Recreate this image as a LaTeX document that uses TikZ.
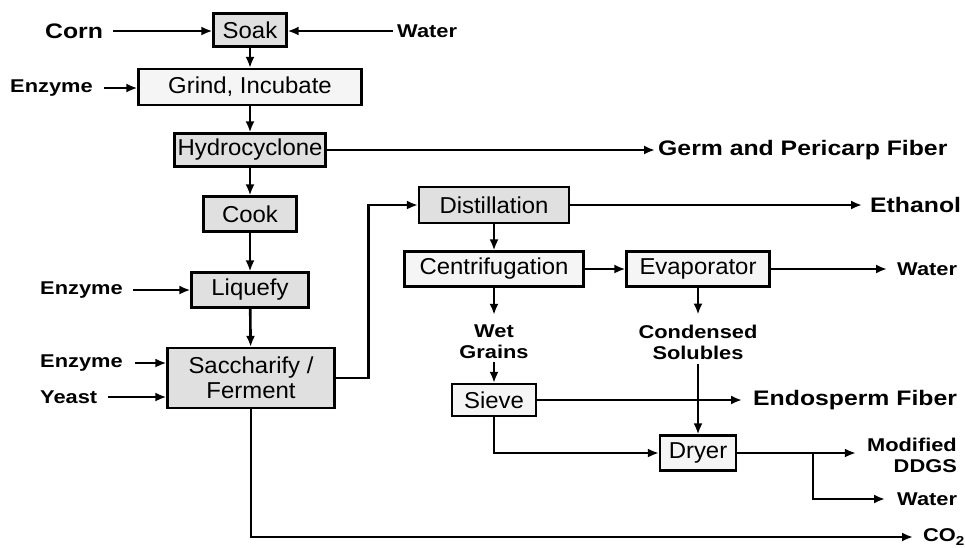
\documentclass[tikz,border=0pt]{standalone}
\usepackage{fontspec}
\setmainfont{Liberation Sans}[FakeStretch=1.18]
\newfontfamily\boxfamily{Liberation Sans}[FakeStretch=1.04]
\usepackage{tikz}
\usetikzlibrary{arrows.meta, positioning}
\newcommand{\boxfont}{\boxfamily\fontsize{23}{25}\selectfont}
\newcommand{\lblfont}{\fontsize{18.5}{21}\selectfont\bfseries}
\newcommand{\biglblfont}{\fontsize{21}{24}\selectfont\bfseries}
\tikzset{
  box/.style={
    rectangle, draw=black, line width=2.2pt, fill=#1,
    inner sep=0pt, align=center, font=\boxfont
  },
  dbox/.style={box=gray!24},
  lbox/.style={box=gray!8},
  arrow/.style={-{Latex[length=11pt,width=9pt]}, line width=2.6pt},
  lbl/.style={inner sep=0pt, align=center, font=\lblfont},
  biglbl/.style={lbl, font=\biglblfont},
}

\begin{document}
\begin{tikzpicture}[x=1pt, y=-1pt]
  \useasboundingbox (0,0) rectangle (965,547);

  % Main column
  \node[dbox, minimum width=73pt,  minimum height=33pt] (soak)    at (250,30)  {Soak};
  \node[lbox, minimum width=223pt, minimum height=36pt] (grind)   at (250,87)  {Grind, Incubate};
  \node[dbox, minimum width=151pt, minimum height=33pt] (hydro)   at (250,150) {Hydrocyclone};
  \node[dbox, minimum width=93pt,  minimum height=35pt] (cook)    at (250,214) {Cook};
  \node[dbox, minimum width=117pt, minimum height=35pt] (liquefy) at (250,290) {Liquefy};
  \node[dbox, minimum width=167pt, minimum height=60pt] (sacch)   at (251,378) {Saccharify /\\Ferment};

  % Right side
  \node[dbox, minimum width=150pt, minimum height=36pt] (distill) at (494,205) {Distillation};
  \node[lbox, minimum width=179pt, minimum height=35pt] (centr)   at (494,269) {Centrifugation};
  \node[lbox, minimum width=143pt, minimum height=35pt] (evap)    at (698,269) {Evaporator};
  \node[lbox, minimum width=84pt,  minimum height=32pt] (sieve)   at (494,400) {Sieve};
  \node[lbox, minimum width=76pt,  minimum height=35pt] (dryer)   at (698,453) {Dryer};

  % Inputs
  \node[biglbl, anchor=west] (corn)    at (45,31)  {Corn};
  \node[lbl, anchor=west]    (water)   at (397,31) {Water};
  \node[lbl, anchor=west]    (enzgrd)  at (10,88)  {Enzyme};
  \node[lbl, anchor=west]    (enzliq)  at (40,290) {Enzyme};
  \node[lbl, anchor=west]    (enzsac)  at (40,363) {Enzyme};
  \node[lbl, anchor=west]    (yeast)   at (40,397) {Yeast};

  % Products
  \node[biglbl, anchor=west] (germ)    at (658,150) {Germ and Pericarp Fiber};
  \node[biglbl, anchor=west] (ethanol) at (870,205) {Ethanol};
  \node[lbl, anchor=west]    (evwater) at (897,269) {Water};
  \node[lbl]                 (wet)     at (494,342) {Wet\\Grains};
  \node[lbl]                 (solub)   at (698,342) {Condensed\\Solubles};
  \node[biglbl, anchor=west] (endo)    at (753,400) {Endosperm Fiber};
  \node[lbl, anchor=east, align=right] (ddgs) at (957,455) {Modified\\DDGS};
  \node[lbl, anchor=west]    (drwater) at (897,499) {Water};
  \node[lbl, anchor=west]    (co2)     at (923,537) {CO\textsubscript{2}};
  \coordinate[right=76pt of dryer.east] (fork);

  % Arrows
  \draw[arrow, shorten <=10pt] (corn.east) -- (soak.west |- corn.east);
  \draw[arrow, shorten <=4pt]  (water.west) -- (soak.east |- water.west);
  \draw[arrow] (soak)  -- (grind);
  \draw[arrow, shorten <=11pt] (enzgrd.east) -- (grind.west |- enzgrd.east);
  \draw[arrow] (grind) -- (hydro);
  \draw[arrow, shorten >=3pt] (hydro.east) -- (germ.west);
  \draw[arrow] (hydro) -- (cook);
  \draw[arrow] (cook)  -- (liquefy);
  \draw[arrow, shorten <=10pt] (enzliq.east) -- (liquefy.west);
  \draw[arrow] (liquefy) -- (sacch);
  \draw[arrow, shorten <=12pt] (enzsac.east) -- (sacch.west |- enzsac.east);
  \draw[arrow, shorten <=11pt] (yeast.east) -- (sacch.west |- yeast.east);
  \draw[arrow] (sacch.east) -- ++(33,0) |- (distill.west);
  \draw[arrow, shorten >=10pt] (sacch.south) |- (co2.west);
  \draw[arrow, shorten >=8pt] (distill.east) -- (ethanol.west);
  \draw[arrow] (distill) -- (centr);
  \draw[arrow] (centr) -- (evap);
  \draw[arrow, shorten >=10pt] (evap.east) -- (evwater.west);
  \draw[arrow, shorten >=10pt] (centr.south) -- (wet.north);
  \draw[arrow, shorten <=3pt] (wet.south) -- (sieve.north);
  \draw[arrow, shorten >=10pt] (evap.south) -- (solub.north);
  \draw[arrow, shorten <=4pt] (solub.south) -- (dryer.north);
  \draw[arrow, shorten >=11pt] (sieve.east) -- (endo.west);
  \draw[arrow] (sieve.south) |- (dryer.west);
  \draw[arrow, shorten >=11pt] (dryer.east) -- (dryer.east -| ddgs.west);
  \draw[arrow, shorten >=12pt] (fork) |- (drwater.west);

\end{tikzpicture}
\end{document}
